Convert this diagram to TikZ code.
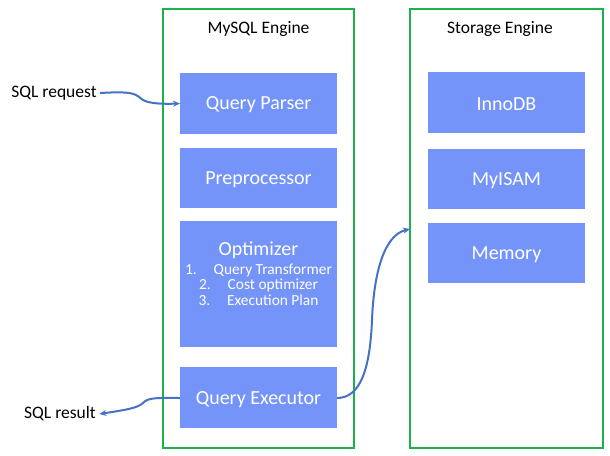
\documentclass[tikz,border=0pt]{standalone}
\usepackage{fontspec}
\setmainfont{Carlito}
\usetikzlibrary{arrows.meta}
\definecolor{engreen}{HTML}{1DB14B}
\definecolor{blk}{HTML}{7494F9}
\definecolor{arr}{HTML}{4472C4}
\begin{document}
\begin{tikzpicture}[x=1pt,y=-1pt,
  engine/.style={draw=engreen,line width=2.2pt},
  blkbox/.style={fill=blk,draw=none,text=white,font=\fontsize{20}{24}\selectfont},
  lbl/.style={font=\fontsize{17.5}{20}\selectfont},
  conn/.style={draw=arr,line width=2pt,-{Stealth[length=7pt,width=6pt]}}]
\useasboundingbox (0,0) rectangle (610,455);
% engines
\draw[engine] (163,9) rectangle (354,448);
\draw[engine] (410,9) rectangle (603,448);
\node[lbl] (mysqlt) at (258.5,29) {MySQL Engine};
\node[lbl] (storet) at (500,29) {Storage Engine};
% MySQL blocks
\path[blkbox] (180,73) rectangle (337,134);
\node[blkbox,fill=none] (parser) at (258.5,104.5) {Query Parser};
\coordinate (parserW) at (180,103.5);
\path[blkbox] (180,148) rectangle (337,208);
\node[blkbox,fill=none] (pre) at (258.5,179.5) {Preprocessor};
\path[blkbox] (180,221) rectangle (337,347);
\node[blkbox,fill=none] (opt) at (258.5,250) {Optimizer};
\node[text=white,font=\fontsize{15.4}{15.6}\selectfont,align=center,anchor=north] (optlist) at (258.5,260)
  {1.\hspace{1.1em}Query Transformer\\2.\hspace{1.1em}Cost optimizer\\3.\hspace{1.1em}Execution Plan};
\path[blkbox] (180,367) rectangle (337,428);
\node[blkbox,fill=none] (exec) at (258.5,399.5) {Query Executor};
\coordinate (execW) at (180,398);
\coordinate (execE) at (337,398);
% storage blocks
\path[blkbox] (428,72) rectangle (585,133);
\node[blkbox,fill=none] (innodb) at (506.5,104) {InnoDB};
\path[blkbox] (428,149) rectangle (585,209);
\node[blkbox,fill=none] (myisam) at (506.5,180.5) {MyISAM};
\path[blkbox] (428,223) rectangle (585,283);
\node[blkbox,fill=none] (memory) at (506.5,254.5) {Memory};
\coordinate (storeW) at (410,229);
% labels
\node[lbl] (req) at (54,93) {SQL request};
\node[lbl] (res) at (60,414) {SQL result};
% connectors
\draw[conn] (req.east) .. controls (135,91) and (135,94) .. (143,100) .. controls (150,104) and (165,104) .. (parserW);
\draw[conn] (execW) .. controls (160,398) and (148,397) .. (143,403) .. controls (138,408) and (125,410) .. (res.east);
\draw[conn] (execE) .. controls (360,398) and (370,370) .. (372,320) .. controls (374,270) and (385,235) .. (storeW);
\end{tikzpicture}
\end{document}
